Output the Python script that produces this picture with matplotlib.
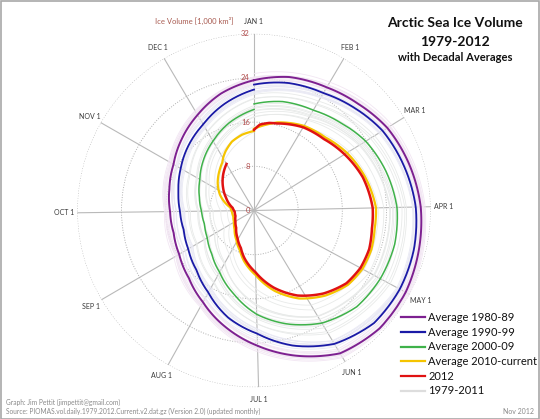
import numpy as np
import matplotlib
matplotlib.use("Agg")
import matplotlib.pyplot as plt
from matplotlib.lines import Line2D
from matplotlib.patches import Rectangle

plt.rcParams['font.family'] = ['Lato', 'DejaVu Sans']

# --- data (ice volume, 1,000 km3) ---
months = ['JAN 1', 'FEB 1', 'MAR 1', 'APR 1', 'MAY 1', 'JUN 1',
          'JUL 1', 'AUG 1', 'SEP 1', 'OCT 1', 'NOV 1', 'DEC 1']
month_days = [0, 31, 59, 90, 120, 151, 181, 212, 243, 273, 304, 334]
radial_ticks = [0, 8, 16, 24, 32]

avg_days = [0, 15, 31, 45, 59, 74, 90, 105, 120, 135, 151, 166, 181,
            196, 212, 227, 243, 258, 273, 288, 304, 319, 334, 349, 365]
avg_1980s = [23.6, 25.0, 25.9, 27.0, 28.4, 29.3, 30.2, 30.7, 31.2, 31.2, 30.2, 27.4, 24.5,
             21.8, 19.0, 17.0, 15.7, 15.1, 15.2, 15.8, 16.8, 18.4, 20.1, 22.0, 23.6]
avg_1990s = [22.8, 23.9, 24.7, 26.0, 27.4, 28.3, 29.3, 29.8, 30.0, 29.8, 28.2, 25.5, 22.3,
             20.0, 17.0, 15.0, 13.8, 13.2, 13.4, 14.1, 15.3, 16.7, 18.1, 20.0, 21.9]
avg_2000s = [19.3, 20.4, 21.1, 22.3, 23.8, 24.9, 25.9, 26.2, 26.0, 25.5, 23.8, 21.4, 18.8,
             15.6, 12.8, 11.0, 9.8, 9.3, 9.5, 10.2, 11.3, 12.9, 14.6, 16.5, 18.3]

days_2010s = [0, 10, 15, 31, 45, 59, 74, 90, 100, 110, 120, 130, 142, 155, 168, 181, 194,
              202, 214, 229, 243, 257, 270, 281, 299, 311, 324, 331, 335, 339, 347, 356, 365]
avg_2010s = [14.8, 15.9, 16.5, 17.8, 18.5, 19.8, 21.0, 22.1, 22.1, 22.4, 22.3, 21.7, 20.1,
             17.9, 15.0, 11.7, 9.3, 7.7, 6.2, 4.9, 4.2, 3.9, 4.0, 4.3, 6.8, 8.2, 9.6, 10.4,
             11.2, 11.9, 13.1, 13.9, 14.4]

days_2012 = [0, 4, 10, 15, 31, 45, 59, 74, 90, 100, 110, 120, 130, 142, 155, 168, 181,
             194, 202, 214, 229, 243, 257, 270, 281, 299, 311, 324, 334]
vol_2012 = [14.6, 15.6, 16.1, 16.3, 17.5, 18.1, 19.3, 20.6, 21.5, 21.6, 22.0, 21.9, 21.3,
            19.6, 17.3, 14.4, 11.2, 8.8, 7.2, 5.8, 4.5, 3.9, 3.5, 3.5, 3.9, 5.6, 7.0, 8.6, 9.8]

# individual years, values on the 1st of each month plus Dec 31
year_days = [0, 31, 59, 90, 120, 151, 181, 212, 243, 273, 304, 334, 365]
years_1979_1989 = [
    [24.8, 27.0, 29.4, 31.0, 32.0, 31.1, 25.6, 20.0, 16.8, 16.2, 17.8, 21.0, 24.1],
    [24.1, 26.4, 28.9, 30.7, 31.6, 30.6, 24.9, 19.4, 16.2, 15.8, 17.3, 20.5, 23.9],
    [23.9, 26.0, 28.3, 29.9, 30.8, 29.6, 23.7, 18.2, 14.9, 14.5, 16.2, 19.6, 23.2],
    [23.2, 25.6, 28.3, 30.3, 31.4, 30.5, 25.0, 19.7, 16.4, 15.9, 17.4, 20.6, 24.0],
    [24.0, 26.3, 28.8, 30.6, 31.5, 30.5, 24.8, 19.2, 15.9, 15.4, 17.1, 20.4, 23.8],
    [23.8, 25.8, 28.1, 29.8, 30.7, 29.7, 23.9, 18.4, 15.0, 14.5, 16.0, 19.4, 23.0],
    [23.0, 25.5, 28.2, 30.0, 31.0, 30.0, 24.3, 18.8, 15.5, 15.0, 16.6, 19.9, 23.4],
    [23.4, 25.9, 28.6, 30.5, 31.5, 30.6, 25.0, 19.6, 16.1, 15.6, 17.2, 20.5, 23.9],
    [23.9, 26.4, 29.0, 30.8, 31.8, 30.9, 25.3, 19.8, 16.4, 16.0, 17.6, 20.8, 24.2],
    [24.2, 26.1, 28.5, 30.2, 31.2, 30.1, 24.4, 18.9, 15.6, 15.1, 16.7, 19.9, 23.4],
    [23.4, 25.4, 27.8, 29.6, 30.4, 29.3, 23.6, 18.1, 14.9, 14.6, 16.2, 19.5, 22.9],
]
years_1990_1999 = [
    [22.9, 25.0, 27.7, 29.5, 30.2, 28.4, 22.4, 17.0, 13.7, 13.2, 15.0, 17.8, 21.6],
    [21.6, 24.0, 26.9, 28.9, 29.7, 27.9, 22.0, 16.7, 13.5, 13.1, 15.1, 18.0, 22.0],
    [22.0, 24.4, 27.3, 29.4, 30.3, 28.8, 23.2, 18.1, 15.0, 14.5, 16.3, 19.0, 22.8],
    [22.8, 24.9, 27.6, 29.5, 30.2, 28.4, 22.4, 17.0, 13.6, 13.2, 15.2, 18.1, 22.0],
    [22.0, 24.3, 27.2, 29.3, 30.1, 28.5, 22.8, 17.6, 14.5, 14.1, 16.0, 18.8, 22.6],
    [22.6, 24.7, 27.4, 29.2, 29.9, 28.0, 21.9, 16.5, 13.2, 12.9, 14.8, 17.6, 21.4],
    [21.4, 23.8, 26.8, 28.8, 29.7, 28.1, 22.4, 17.3, 14.4, 14.0, 15.9, 18.6, 22.3],
    [22.3, 24.5, 27.3, 29.2, 29.9, 28.0, 21.8, 16.3, 13.1, 12.8, 14.7, 17.6, 21.4],
    [21.4, 23.9, 26.9, 28.9, 29.6, 27.6, 21.5, 16.1, 12.9, 12.6, 14.6, 17.5, 21.2],
    [21.2, 23.7, 26.6, 28.7, 29.4, 27.5, 21.4, 16.0, 12.8, 12.5, 14.4, 17.3, 21.0],
]
years_2000_2011 = [
    [21.0, 23.0, 25.7, 27.6, 28.0, 26.0, 20.5, 14.8, 11.9, 11.5, 13.3, 16.5, 20.2],
    [20.2, 22.4, 25.2, 27.3, 27.6, 25.6, 20.5, 15.0, 12.1, 11.8, 13.5, 16.6, 20.3],
    [20.3, 22.2, 24.8, 26.8, 27.0, 24.8, 19.6, 13.7, 10.5, 10.2, 12.0, 15.3, 19.0],
    [19.0, 21.1, 23.9, 26.1, 26.4, 24.3, 19.3, 13.3, 10.3, 10.0, 11.8, 15.0, 18.7],
    [18.7, 20.6, 23.4, 25.6, 26.0, 24.0, 19.2, 13.2, 10.3, 10.0, 11.8, 14.9, 18.5],
    [18.5, 20.4, 23.2, 25.3, 25.6, 23.5, 18.6, 12.5, 9.5, 9.3, 11.1, 14.4, 18.1],
    [18.1, 20.1, 22.9, 25.1, 25.3, 23.0, 18.0, 12.1, 9.4, 9.2, 11.0, 14.4, 18.0],
    [18.0, 19.9, 22.6, 24.7, 24.8, 22.4, 17.3, 10.8, 7.6, 7.4, 9.3, 12.9, 16.9],
    [16.9, 19.2, 22.4, 24.6, 24.6, 22.3, 17.0, 11.0, 8.3, 8.0, 10.0, 13.6, 17.5],
    [17.5, 19.7, 22.6, 24.6, 24.7, 22.4, 17.0, 11.0, 8.2, 7.9, 9.8, 13.4, 17.0],
    [17.0, 19.0, 21.5, 23.5, 23.7, 21.0, 15.0, 9.1, 6.2, 6.0, 8.0, 11.7, 15.2],
    [15.2, 17.6, 20.3, 22.5, 22.6, 20.0, 14.2, 8.0, 5.0, 4.8, 7.0, 10.5, 14.2],
]


def to_theta(days):
    return np.asarray(days, dtype=float) / 365.0 * 2 * np.pi


def polar_line(ax, days, vals, **kw):
    # let the polar transform bend each segment instead of drawing chords
    ln, = ax.plot(to_theta(days), vals, **kw)
    ln.get_path()._interpolation_steps = 40
    return ln


W, H = 540, 419
fig = plt.figure(figsize=(W / 100, H / 100), dpi=100)

# polar axes centred at (254, 210.5) px, outer ring radius 176.7 px
cx, cy, rad = 254, 210.5, 176.7
ax = fig.add_axes([(cx - rad) / W, (H - cy - rad) / H, 2 * rad / W, 2 * rad / H],
                  projection='polar')
ax.set_theta_zero_location('N')
ax.set_theta_direction(-1)
ax.set_ylim(0, 32)
ax.spines['polar'].set_visible(False)
ax.set_xticks(to_theta(month_days))
ax.set_xticklabels([])
ax.set_yticks(radial_ticks[1:])
ax.set_yticklabels([])
ax.tick_params(length=0)
ax.xaxis.grid(True, color='#b9b9b9', lw=0.8, ls='-')
ax.yaxis.grid(True, color='#b0b0b0', lw=0.7, ls=(0, (1, 1.6)))

# individual years
for row in years_1979_1989:
    polar_line(ax, year_days, row, color='#f2e6f3', lw=0.6, zorder=2)
for row in years_1990_1999:
    polar_line(ax, year_days, row, color='#e9e9f4', lw=0.6, zorder=2)
for row in years_2000_2011:
    polar_line(ax, year_days, row, color='#e8eae9', lw=0.6, zorder=2)

series = [
    ('Average 1980-89', avg_days, avg_1980s, '#7d2090', 1.4),
    ('Average 1990-99', avg_days, avg_1990s, '#1a1aa6', 1.3),
    ('Average 2000-09', avg_days, avg_2000s, '#3fb24a', 1.1),
    ('Average 2010-current', days_2010s, avg_2010s, '#f5c400', 1.6),
    ('2012', days_2012, vol_2012, '#e01212', 1.8),
]
for i, (lab, d, v, c, lw) in enumerate(series):
    polar_line(ax, d, v, color=c, lw=lw, zorder=3 + i)

# month labels round the rim
for d, lab in zip(month_days, months):
    ax.text(to_theta([d])[0], 34.3, lab, ha='center', va='center',
            fontsize=5, color='#3a3a3a')

# radial labels along the JAN spoke
for v in radial_ticks:
    ax.annotate(str(v), xy=(0, v), xytext=(-3, 0), textcoords='offset points',
                ha='right', va='center', fontsize=5.5, color='#b04a4a', zorder=10)

fig.text(194 / W, 1 - 20.7 / H, 'Ice Volume [1,000 km³]', ha='center', va='center',
         fontsize=5.5, color='#a85a50')

# title block
fig.text(455 / W, 1 - 22.7 / H, 'Arctic Sea Ice Volume', ha='center', va='center',
         fontsize=10, fontweight='bold', color='#111111')
fig.text(455 / W, 1 - 41.7 / H, '1979-2012', ha='center', va='center',
         fontsize=10, fontweight='bold', color='#111111')
fig.text(455 / W, 1 - 57.7 / H, 'with Decadal Averages', ha='center', va='center',
         fontsize=8, fontweight='bold', color='#111111')

# legend drawn by hand
legend_rows = series + [('1979-2011', None, None, '#dddddd', 1.0)]
for i, (lab, d, v, c, lw) in enumerate(legend_rows):
    y = 1 - (317.3 + i * 14.7) / H
    fig.add_artist(Line2D([401 / W, 425 / W], [y, y], color=c, lw=1.6,
                          transform=fig.transFigure))
    fig.text(428.5 / W, y, lab, ha='left', va='center', fontsize=8, color='#111111')

# footer
fig.text(6 / W, 1 - 402 / H, 'Graph: Jim Pettit (jimpettit@gmail.com)',
         ha='left', va='center', fontsize=4.8, color='#8a8a8a')
fig.text(6 / W, 1 - 411.3 / H,
         'Source: PIOMAS.vol.daily.1979.2012.Current.v2.dat.gz (Version 2.0) (updated monthly)',
         ha='left', va='center', fontsize=4.8, color='#8a8a8a')
fig.text(534 / W, 1 - 411.3 / H, 'Nov 2012', ha='right', va='center',
         fontsize=5, color='#8a8a8a')

fig.add_artist(Rectangle((0.001, 0.001), 0.998, 0.997, transform=fig.transFigure,
                         fill=False, ec='#a8a8a8', lw=1.2))

fig.savefig('out.png', dpi=100)
